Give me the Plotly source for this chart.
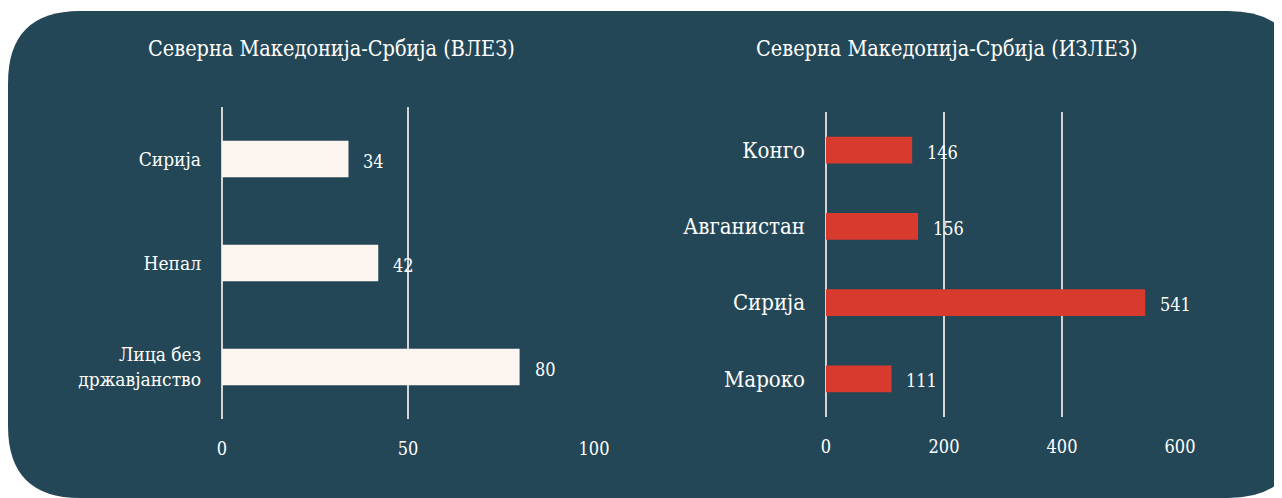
import plotly.graph_objects as go

W, H = 1282, 498

# Left chart (ВЛЕЗ)
left_title = "Северна Македонија-Србија (ВЛЕЗ)"
left_categories = ["Сирија", "Непал", "Лица без<br>државјанство"]
left_values = [34, 42, 80]
left_ticks = [0, 50, 100]

# Right chart (ИЗЛЕЗ)
right_title = "Северна Македонија-Србија (ИЗЛЕЗ)"
right_categories = ["Конго", "Авганистан", "Сирија", "Мароко"]
right_values = [146, 156, 541, 111]
right_ticks = [0, 200, 400, 600]

BG = "#244757"
CREAM = "#fdf6f0"
RED = "#d83a2e"
GRID = "#d4d4d4"
FONT = "DejaVu Serif Condensed, Liberation Serif, serif"
OFF = 8  # page offset

def px(x):
    return (x - OFF) / W

def py(y):
    return 1 - (y - OFF) / H

fig = go.Figure()
fig.add_trace(go.Bar(x=left_values, y=left_categories, orientation="h",
                     marker=dict(color=CREAM, line=dict(width=0)),
                     xaxis="x", yaxis="y", hoverinfo="x+y"))
fig.add_trace(go.Bar(x=right_values, y=right_categories, orientation="h",
                     marker=dict(color=RED, line=dict(width=0)),
                     xaxis="x2", yaxis="y2", hoverinfo="x+y"))

annotations = []
for c, v in zip(left_categories, left_values):
    annotations.append(dict(x=v, y=c, xref="x", yref="y", text=str(v), showarrow=False,
                            xanchor="left", xshift=13, yshift=-2,
                            font=dict(family=FONT, size=18, color="white")))
for c, v in zip(right_categories, right_values):
    annotations.append(dict(x=v, y=c, xref="x2", yref="y2", text=str(v), showarrow=False,
                            xanchor="left", xshift=13, yshift=-2,
                            font=dict(family=FONT, size=18, color="white")))
annotations.append(dict(x=px(331), y=py(48), xref="paper", yref="paper", text=left_title,
                        showarrow=False, xanchor="center", yanchor="middle",
                        font=dict(family=FONT, size=21.5, color="white")))
annotations.append(dict(x=px(947), y=py(48), xref="paper", yref="paper", text=right_title,
                        showarrow=False, xanchor="center", yanchor="middle",
                        font=dict(family=FONT, size=21.5, color="white")))

# rounded background panel
x0, x1, y0, y1, r = px(8), px(1300), py(11), py(498), 72
rx, ry = r / W, r / H
path = (f"M {x0+rx},{y0} L {x1-rx},{y0} Q {x1},{y0} {x1},{y0-ry} "
        f"L {x1},{y1+ry} Q {x1},{y1} {x1-rx},{y1} L {x0+rx},{y1} "
        f"Q {x0},{y1} {x0},{y1+ry} L {x0},{y0-ry} Q {x0},{y0} {x0+rx},{y0} Z")

fig.update_layout(
    width=W, height=H,
    margin=dict(l=0, r=0, t=0, b=0, autoexpand=False),
    paper_bgcolor="white", plot_bgcolor="rgba(0,0,0,0)",
    showlegend=False, bargap=0.65,
    font=dict(family=FONT, color="white"),
    shapes=[dict(type="path", path=path, xref="paper", yref="paper",
                 fillcolor=BG, line=dict(width=0), layer="below")],
    annotations=annotations,
    xaxis=dict(domain=[px(222), px(594)], range=[0, 100], tickvals=left_ticks,
               showgrid=True, gridcolor=GRID, gridwidth=2, zeroline=True,
               zerolinecolor=GRID, zerolinewidth=2, showline=False,
               tickfont=dict(family=FONT, size=18, color="white"),
               ticklabelstandoff=17, anchor="y", fixedrange=True),
    yaxis=dict(domain=[py(419), py(107)], autorange="reversed", anchor="x",
               showgrid=False, zeroline=False, showline=False,
               tickfont=dict(family=FONT, size=19, color="white"),
               ticklabelstandoff=20, fixedrange=True),
    xaxis2=dict(domain=[px(826), px(1180)], range=[0, 600], tickvals=right_ticks,
                showgrid=True, gridcolor=GRID, gridwidth=2, zeroline=True,
                zerolinecolor=GRID, zerolinewidth=2, showline=False,
                tickfont=dict(family=FONT, size=18, color="white"),
                ticklabelstandoff=17, anchor="y2", fixedrange=True),
    yaxis2=dict(domain=[py(417), py(112)], autorange="reversed", anchor="x2",
                showgrid=False, zeroline=False, showline=False,
                tickfont=dict(family=FONT, size=22, color="white"),
                ticklabelstandoff=20, fixedrange=True),
)

fig.write_html("out.html")
